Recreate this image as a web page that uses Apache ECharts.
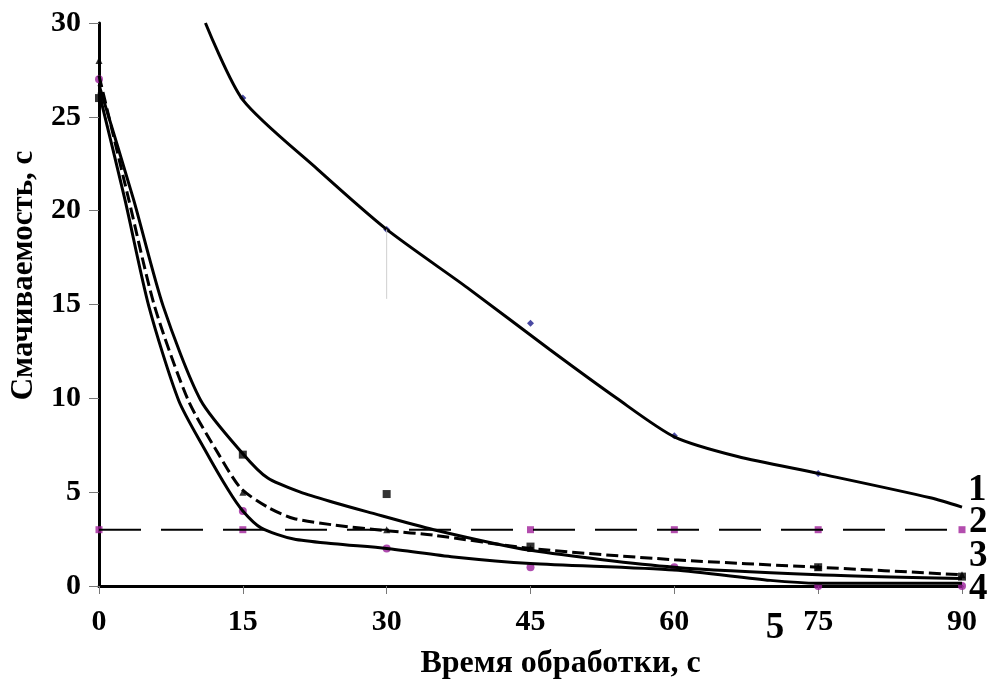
<!DOCTYPE html>
<html>
<head>
<meta charset="utf-8">
<script src="https://cdn.jsdelivr.net/npm/echarts@6/dist/echarts.min.js"></script>
<style>
  html, body { margin: 0; padding: 0; background: #fff; }
  #chart { width: 992px; height: 691px; }
</style>
</head>
<body>
<div id="chart"></div>
<script>
// fitted curves
var curve1X = [11.1, 15, 22.8, 30, 38.4, 47, 54, 60, 66.6, 75, 86.7, 90];
var curve1Y = [30, 25.9, 22.2, 19.0, 15.9, 12.6, 10.0, 7.95, 6.9, 6.0, 4.7, 4.2];

var curve2X = [0, 90];
var curve2Y = [3, 3];

var curve3X = [0, 3.1, 5.8, 9.3, 12.5, 14.8, 17.6, 20.3, 24.5, 30, 35, 45, 60, 75, 90];
var curve3Y = [27.2, 20.6, 14.9, 9.9, 7.0, 5.2, 4.2, 3.6, 3.25, 2.95, 2.7, 2.0, 1.4, 1.0, 0.6];

var curve4X = [0, 3.6, 6.7, 10.6, 15, 17.6, 21, 24.5, 28, 34.9, 45, 60, 75, 90];
var curve4Y = [26.7, 20.6, 14.9, 9.9, 7.05, 5.75, 5.0, 4.45, 3.95, 3.0, 1.9, 1.0, 0.6, 0.4];

var curve5X = [0, 2.7, 5.2, 8.3, 11, 13.5, 15, 16.9, 20.3, 24.5, 30, 37, 45, 60, 70, 75, 90];
var curve5Y = [26.3, 20.6, 14.9, 9.9, 7.3, 5.1, 4.0, 3.1, 2.5, 2.25, 2.0, 1.55, 1.2, 0.85, 0.3, 0.15, 0.15];

// measured points
var ptsDiamond = [[15, 26], [30, 19], [45, 14], [60, 8], [75, 6]];
var ptsSquareBlack = [[0, 26], [15, 7], [30, 4.9], [45, 2.1], [75, 1.0], [90, 0.5]];
var ptsSquareMagenta = [[0, 3], [15, 3], [45, 3], [60, 3], [75, 3], [90, 3]];
var ptsTriangle = [[0, 28], [15, 5], [30, 3], [45, 2], [75, 1], [90, 0.6]];
var ptsCircle = [[0, 27], [15, 4], [30, 2], [45, 1], [60, 1], [75, 0], [90, 0]];
var errBar = [[30, 19], [30, 15.3]];

// curve numbers and where they sit (data units)
var curveNames = ['1', '2', '3', '4', '5'];
var nameAnchors = [[91.6, 5.1], [91.7, 3.4], [91.7, 1.55], [91.7, -0.2], [70.5, -2.25]];

var xTicks = [0, 15, 30, 45, 60, 75, 90];

function zip(xs, ys) {
    return xs.map(function (x, i) { return [x, ys[i]]; });
}

var serif = "'Liberation Serif', 'DejaVu Serif', serif";

function curve(data, dash) {
    return {
        type: 'line', data: data, smooth: 0.25, showSymbol: false,
        lineStyle: { color: '#000', width: 3, type: dash || 'solid' }
    };
}

var option = {
    animation: false,
    backgroundColor: '#fff',
    grid: { left: 98, right: 30, top: 23, bottom: 105 },
    xAxis: {
        type: 'value',
        min: 0, max: 90, interval: 15,
        name: 'Время обработки, с',
        nameLocation: 'middle',
        nameGap: 62,
        nameTextStyle: { fontFamily: serif, fontWeight: 'bold', fontSize: 32, color: '#000', padding: [0, 0, 0, 60] },
        axisLine: { lineStyle: { color: '#000', width: 3 } },
        axisTick: { show: true, length: 8, lineStyle: { color: '#777', width: 1 } },
        axisLabel: { fontFamily: serif, fontWeight: 'bold', fontSize: 30, color: '#000', margin: 21,
            formatter: function (v) { return xTicks.indexOf(v) >= 0 ? String(v) : ''; } },
        splitLine: { show: false }
    },
    yAxis: {
        type: 'value',
        min: 0, max: 30, interval: 5,
        name: 'Смачиваемость, с',
        nameLocation: 'middle',
        nameGap: 60,
        nameTextStyle: { fontFamily: serif, fontWeight: 'bold', fontSize: 31, color: '#000', padding: [0, 0, 0, 58] },
        axisLine: { lineStyle: { color: '#000', width: 3 } },
        axisTick: { show: true, length: 10, lineStyle: { color: '#777', width: 1 } },
        axisLabel: { fontFamily: serif, fontWeight: 'bold', fontSize: 30, color: '#000', margin: 18 },
        splitLine: { show: false }
    },
    series: [
        curve(zip(curve1X, curve1Y)),
        { type: 'line', data: zip(curve2X, curve2Y), showSymbol: false,
          lineStyle: { color: '#000', width: 2, type: [42, 20] } },
        curve(zip(curve3X, curve3Y), [12, 5]),
        curve(zip(curve4X, curve4Y)),
        curve(zip(curve5X, curve5Y)),
        { type: 'line', data: errBar, showSymbol: false,
          lineStyle: { color: '#cfcfcf', width: 1 } },
        { type: 'scatter', data: ptsDiamond, symbol: 'diamond', symbolSize: 7,
          itemStyle: { color: '#1c1c8c' } },
        { type: 'scatter', data: ptsSquareBlack, symbol: 'rect', symbolSize: 8,
          itemStyle: { color: '#000' } },
        { type: 'scatter', data: ptsSquareMagenta, symbol: 'rect', symbolSize: 7,
          itemStyle: { color: '#a0209a' } },
        { type: 'scatter', data: ptsTriangle, symbol: 'triangle', symbolSize: 7,
          itemStyle: { color: '#000' } },
        { type: 'scatter', data: ptsCircle, symbol: 'circle', symbolSize: 8,
          itemStyle: { color: '#9b1f9b' } }
    ]
};

var chart = echarts.init(document.getElementById('chart'), null, { renderer: 'canvas' });
chart.setOption(option);

// curve numbers drawn as text next to the curve ends
var nameGraphics = curveNames.map(function (n, i) {
    var p = chart.convertToPixel({ gridIndex: 0 }, nameAnchors[i]);
    return {
        type: 'text', x: p[0], y: p[1], z: 100,
        style: { text: n, fontFamily: serif, fontWeight: 'bold', fontSize: 37,
                 fill: '#000', align: 'center', verticalAlign: 'middle' }
    };
});
chart.setOption({ graphic: nameGraphics });
</script>
</body>
</html>
